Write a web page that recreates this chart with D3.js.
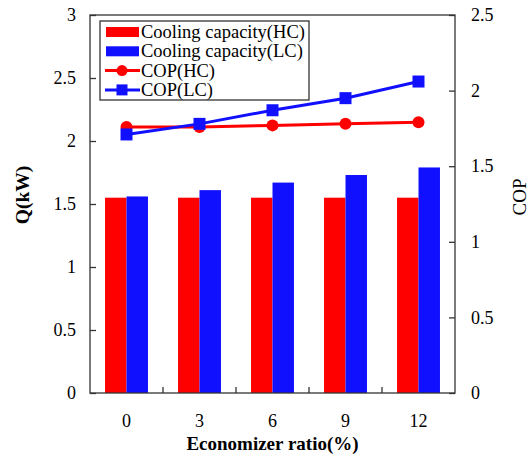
<!DOCTYPE html>
<html>
<head>
<meta charset="utf-8">
<script src="https://d3js.org/d3.v7.min.js"></script>
<style>
  body { margin: 0; background: #fff; }
  text { font-family: "Liberation Serif", "Times New Roman", serif; fill: #000; }
</style>
</head>
<body>
<div id="chart"></div>
<script>
// data
var ratios = ["0", "3", "6", "9", "12"];
var capHC = [1.55, 1.55, 1.55, 1.55, 1.55];
var capLC = [1.56, 1.61, 1.67, 1.73, 1.79];
var copHC = [1.76, 1.76, 1.77, 1.78, 1.79];
var copLC = [1.71, 1.78, 1.87, 1.95, 2.06];
var leftTicks = [0, 0.5, 1, 1.5, 2, 2.5, 3];
var rightTicks = [0, 0.5, 1, 1.5, 2, 2.5];
var legendItems = [
  {name: "Cooling capacity(HC)", color: "#ff0000", type: "bar"},
  {name: "Cooling capacity(LC)", color: "#1010ff", type: "bar"},
  {name: "COP(HC)", color: "#ff0000", type: "circle"},
  {name: "COP(LC)", color: "#1010ff", type: "square"}
];

var serif = "'Liberation Serif', 'Times New Roman', serif";
var width = 529, height = 456;
var margin = {left: 90, right: 74, top: 15, bottom: 63};
var plotW = width - margin.left - margin.right;
var plotH = height - margin.top - margin.bottom;

var svg = d3.select("#chart").append("svg")
  .attr("width", width).attr("height", height);

var g = svg.append("g").attr("transform", "translate(" + margin.left + "," + margin.top + ")");

var x = d3.scaleBand().domain(ratios).range([0, plotW]);
var x1 = d3.scaleBand().domain(["HC", "LC"]).range([0, x.bandwidth()]).paddingOuter(0.7).paddingInner(0);
var yQ = d3.scaleLinear().domain([0, 3]).range([plotH, 0]);
var yC = d3.scaleLinear().domain([0, 2.5]).range([plotH, 0]);

// bars
var bars = [
  {key: "HC", vals: capHC, color: "#ff0000"},
  {key: "LC", vals: capLC, color: "#1010ff"}
];
bars.forEach(function(s) {
  g.selectAll(".bar" + s.key).data(s.vals).enter().append("rect")
    .attr("x", function(d, i) { return x(ratios[i]) + x1(s.key); })
    .attr("width", x1.bandwidth())
    .attr("y", function(d) { return yQ(d); })
    .attr("height", function(d) { return plotH - yQ(d); })
    .attr("fill", s.color);
});

// frame
g.append("rect").attr("width", plotW).attr("height", plotH)
  .attr("fill", "none").attr("stroke", "#333").attr("stroke-width", 1.3);

// left axis
var leftAxis = g.append("g").call(d3.axisLeft(yQ).tickValues(leftTicks).tickSizeInner(-6).tickSizeOuter(0).tickPadding(14).tickFormat(d3.format("")));
// right axis
var rightAxis = g.append("g").attr("transform", "translate(" + plotW + ",0)")
  .call(d3.axisRight(yC).tickValues(rightTicks).tickSizeInner(-6).tickSizeOuter(0).tickPadding(16).tickFormat(d3.format("")));
// bottom axis: ticks between groups
var bottomAxis = g.append("g").attr("transform", "translate(0," + plotH + ")")
  .call(d3.axisBottom(x).tickSize(0).tickPadding(21));
var sepX = ratios.slice(1).map(function(r) { return x(r); });
g.selectAll(".sep").data(sepX).enter().append("line")
  .attr("x1", function(d) { return d; }).attr("x2", function(d) { return d; })
  .attr("y1", plotH).attr("y2", plotH - 6)
  .attr("stroke", "#333").attr("stroke-width", 1.3);

[leftAxis, rightAxis, bottomAxis].forEach(function(a) {
  a.attr("font-family", serif).attr("font-size", 18);
  a.select(".domain").remove();
  a.selectAll(".tick line").attr("stroke", "#333").attr("stroke-width", 1.3);
  a.selectAll(".tick text").attr("font-family", serif).style("font-family", serif).style("font-size", "18px");
});

// lines
var cx = function(i) { return x(ratios[i]) + x.bandwidth() / 2; };
var line = d3.line().x(function(d, i) { return cx(i); }).y(function(d) { return yC(d); });

g.append("path").datum(copHC).attr("d", line)
  .attr("fill", "none").attr("stroke", "#ff0000").attr("stroke-width", 3);
g.selectAll(".ptHC").data(copHC).enter().append("circle")
  .attr("cx", function(d, i) { return cx(i); }).attr("cy", function(d) { return yC(d); })
  .attr("r", 6).attr("fill", "#ff0000");

g.append("path").datum(copLC).attr("d", line)
  .attr("fill", "none").attr("stroke", "#1010ff").attr("stroke-width", 3);
g.selectAll(".ptLC").data(copLC).enter().append("rect")
  .attr("x", function(d, i) { return cx(i) - 6; }).attr("y", function(d) { return yC(d) - 6; })
  .attr("width", 12).attr("height", 12).attr("fill", "#1010ff");

// legend
var lg = svg.append("g").attr("transform", "translate(100,21)");
lg.append("rect").attr("width", 209).attr("height", 79)
  .attr("fill", "#fff").attr("stroke", "#333").attr("stroke-width", 1.3);
var rows = lg.selectAll(".lrow").data(legendItems).enter().append("g")
  .attr("transform", function(d, i) { return "translate(0," + (11 + i * 19.3) + ")"; });
rows.each(function(d) {
  var r = d3.select(this);
  if (d.type === "bar") {
    r.append("rect").attr("x", 6).attr("y", -5).attr("width", 33).attr("height", 10).attr("fill", d.color);
  } else {
    r.append("line").attr("x1", 5).attr("x2", 40).attr("y1", 0).attr("y2", 0)
      .attr("stroke", d.color).attr("stroke-width", 3);
    if (d.type === "circle") {
      r.append("circle").attr("cx", 22).attr("cy", 0).attr("r", 5.5).attr("fill", d.color);
    } else {
      r.append("rect").attr("x", 16.5).attr("y", -5.5).attr("width", 11).attr("height", 11).attr("fill", d.color);
    }
  }
  r.append("text").attr("x", 41).attr("y", 6).style("font-size", "18.5px").text(d.name);
});

// axis titles
svg.append("text").attr("transform", "translate(" + (margin.left + plotW / 2) + ",450)")
  .attr("text-anchor", "middle").style("font-size", "19px").style("font-weight", "bold")
  .text("Economizer ratio(%)");
svg.append("text").attr("transform", "translate(29,195) rotate(-90)")
  .attr("text-anchor", "middle").style("font-size", "19.5px").style("font-weight", "bold")
  .text("Q(kW)");
svg.append("text").attr("transform", "translate(526,197) rotate(-90)")
  .attr("text-anchor", "middle").style("font-size", "19px")
  .text("COP");
</script>
</body>
</html>
